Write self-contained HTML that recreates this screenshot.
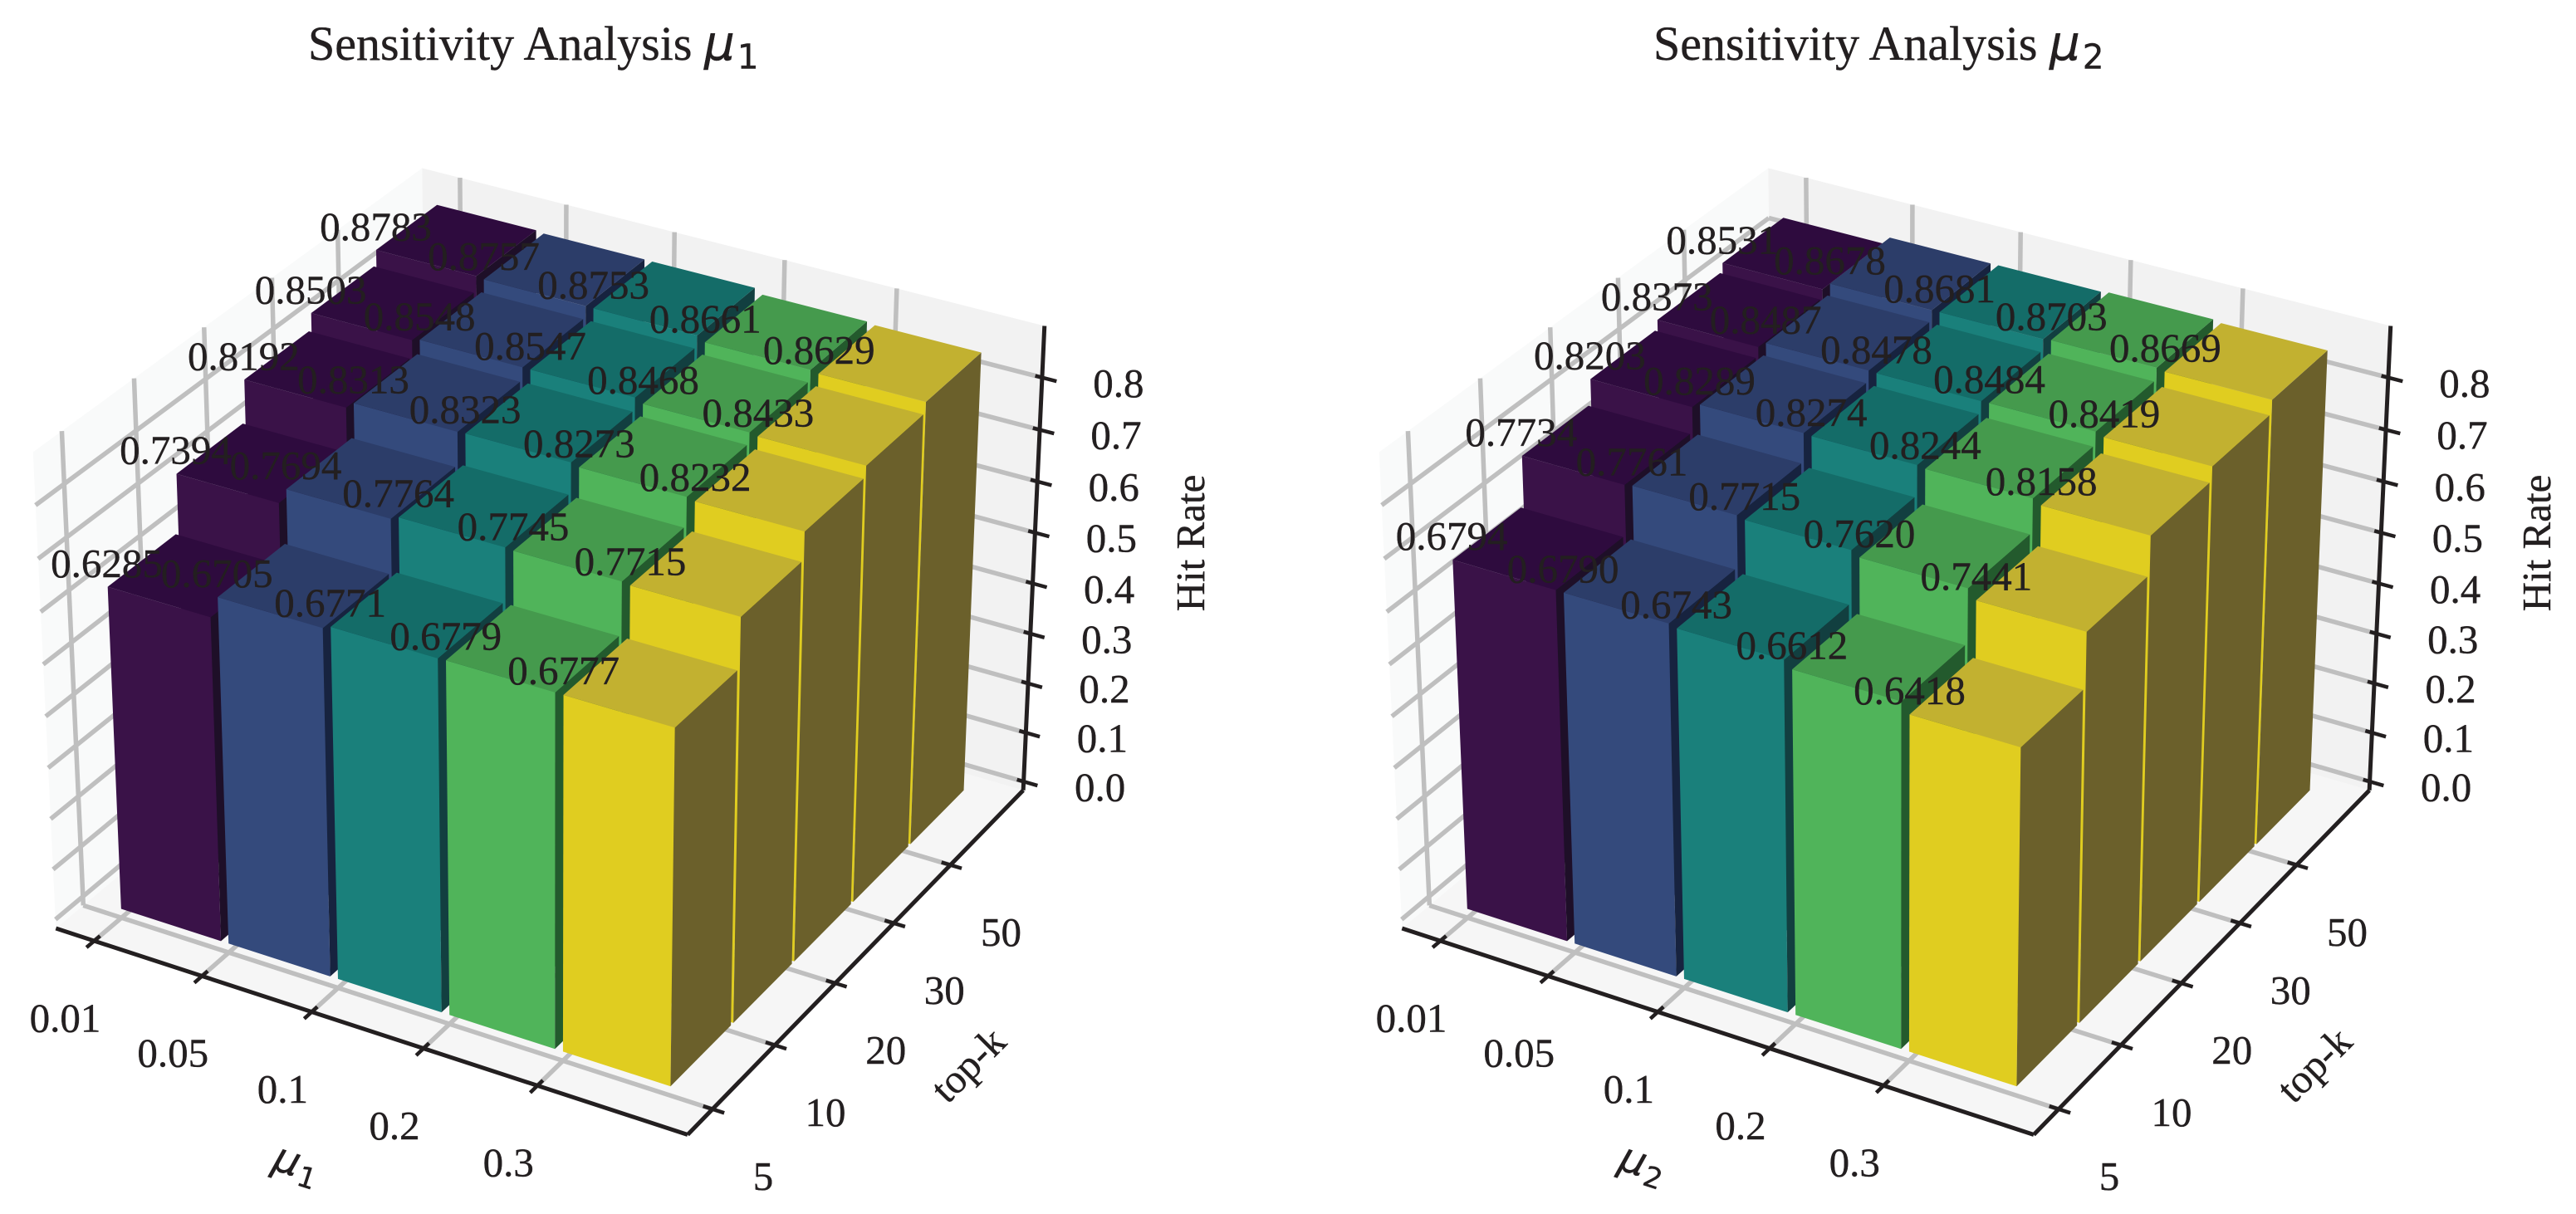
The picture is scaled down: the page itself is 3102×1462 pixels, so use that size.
<!DOCTYPE html>
<html lang="en">
<head>
<meta charset="utf-8">
<title>Sensitivity Analysis</title>
<style>
html,body{margin:0;padding:0;background:#fff;width:3102px;height:1462px;overflow:hidden}
svg{display:block}
text{font-family:"Liberation Serif","Times New Roman",serif;fill:#231f20;stroke:#231f20;stroke-width:0.4px}
.math{font-family:"DejaVu Sans",sans-serif}
</style>
</head>
<body>
<svg id="figure" xmlns="http://www.w3.org/2000/svg" width="3102" height="1462" viewBox="0 0 3102 1462"></svg>
<script>
// ---- chart data ----
const muTickLabels = ['0.01', '0.05', '0.1', '0.2', '0.3'];
const topKTickLabels = ['5', '10', '20', '30', '50'];
const hitRateTicks = [0, 0.1, 0.2, 0.3, 0.4, 0.5, 0.6, 0.7, 0.8];
// one row per mu value, front (k=5) to back (k=50)
const hitRateMu1 = [
  [0.6285, 0.7394, 0.8192, 0.8503, 0.8783],
  [0.6705, 0.7694, 0.8313, 0.8548, 0.8757],
  [0.6771, 0.7764, 0.8323, 0.8547, 0.8753],
  [0.6779, 0.7745, 0.8273, 0.8468, 0.8661],
  [0.6777, 0.7715, 0.8232, 0.8433, 0.8629]
];
const hitRateMu2 = [
  [0.6794, 0.7734, 0.8203, 0.8373, 0.8531],
  [0.6790, 0.7761, 0.8289, 0.8487, 0.8678],
  [0.6743, 0.7715, 0.8274, 0.8478, 0.8681],
  [0.6612, 0.7620, 0.8244, 0.8484, 0.8703],
  [0.6418, 0.7441, 0.8158, 0.8419, 0.8669]
];

// ---- styling and axis configuration ----
const frontFills = ['#3a1248', '#344a7c', '#1a807b', '#50b45a', '#e0cd20'];
const topFills = ['#2e0b3e', '#2c3d69', '#146c68', '#459a4d', '#c2b130'];
const sideFills = ['#1e0f28', '#17233f', '#123f40', '#235a2d', '#6b602b'];
const INK = '#231f20';
const GRID = '#bfbfbf';
const SVGNS = 'http://www.w3.org/2000/svg';
const SCALE = 7320, CENTER_Y = 756.5;
const BOX = [1.1905, 1.1905, 0.8929];
const X_LIM = [-0.36, 5.29], Y_LIM = [-0.39, 5.33], Z_LIM = [-0.018, 0.898];
const BAR_W = 0.93, BAR_D = 0.96;
const LABEL_LIFT = 0.044;
const LABEL_SIZE = 49, TITLE_SIZE = 58;
const GRID_W = 5.5, AXIS_W = 5, TICK_W = 4.5;

function axisX(v) { return (v - X_LIM[0]) / (X_LIM[1] - X_LIM[0]) * BOX[0] - BOX[0] / 2; }
function axisY(v) { return (v - Y_LIM[0]) / (Y_LIM[1] - Y_LIM[0]) * BOX[1] - BOX[1] / 2; }
function axisZ(v) { return (v - Z_LIM[0]) / (Z_LIM[1] - Z_LIM[0]) * BOX[2] - BOX[2] / 2; }

// perspective projection for elev=30, azim=-60, dist=10
function project(cx, x, y, z) {
  const bx = axisX(x), by = axisY(y), bz = axisZ(z);
  const u = 0.8660254 * bx + 0.5 * by;
  const v = -0.25 * bx + 0.4330127 * by + 0.8660254 * bz;
  const w = 0.4330127 * bx - 0.75 * by + 0.5 * bz;
  const d = 10 - w;
  return [cx + SCALE * u / d, CENTER_Y - SCALE * v / d];
}

function make(tag, parent, attrs) {
  const el = document.createElementNS(SVGNS, tag);
  for (const k in attrs) el.setAttribute(k, attrs[k]);
  parent.appendChild(el);
  return el;
}
function polygon(parent, pts, fill) {
  return make('polygon', parent, { points: pts.map(p => p[0].toFixed(2) + ',' + p[1].toFixed(2)).join(' '), fill: fill });
}
function segment(parent, a, b, stroke, width) {
  return make('line', parent, { x1: a[0].toFixed(2), y1: a[1].toFixed(2), x2: b[0].toFixed(2), y2: b[1].toFixed(2), stroke: stroke, 'stroke-width': width, 'stroke-linecap': 'butt' });
}
function centeredText(parent, x, y, str, size) {
  const t = make('text', parent, { x: x.toFixed(2), y: (y + size * 0.33).toFixed(2), 'text-anchor': 'middle', 'font-size': size });
  t.textContent = str;
  return t;
}
function mathSymbol(textEl, sub, size) {
  const m = make('tspan', textEl, { class: 'math', 'font-style': 'oblique', 'font-size': size });
  m.textContent = '\u03bc';
  const s = make('tspan', textEl, { class: 'math', 'font-size': size * 0.7, dy: size * 0.18, dx: size * 0.05 });
  s.textContent = sub;
}

function drawChart(root, cx, values, sub, titleX) {
  const g = make('g', root, {});
  
  
  const P = (x, y, z) => project(cx, x, y, z);
  const x0 = X_LIM[0], x1 = X_LIM[1], y0 = Y_LIM[0], y1 = Y_LIM[1], z0 = Z_LIM[0], z1 = Z_LIM[1];

  // panes
  const paneLeft = polygon(g, [P(x0, y0, z0), P(x0, y1, z0), P(x0, y1, z1), P(x0, y0, z1)], '#f9fafa');
  
  
  const paneBack = polygon(g, [P(x0, y1, z0), P(x1, y1, z0), P(x1, y1, z1), P(x0, y1, z1)], '#f2f2f2');
  
  
  const paneFloor = polygon(g, [P(x0, y0, z0), P(x1, y0, z0), P(x1, y1, z0), P(x0, y1, z0)], '#f6f6f6');
  
  

  // grid
  const grid = make('g', g, {});
  
  
  muTickLabels.forEach((_, i) => {
    segment(grid, P(i, y0, z0), P(i, y1, z0), GRID, GRID_W);
    segment(grid, P(i, y1, z0), P(i, y1, z1), GRID, GRID_W);
  });
  topKTickLabels.forEach((_, j) => {
    segment(grid, P(x0, j, z0), P(x1, j, z0), GRID, GRID_W);
    segment(grid, P(x0, j, z0), P(x0, j, z1), GRID, GRID_W);
  });
  hitRateTicks.forEach(z => {
    segment(grid, P(x0, y0, z), P(x0, y1, z), GRID, GRID_W);
    segment(grid, P(x0, y1, z), P(x1, y1, z), GRID, GRID_W);
  });

  // axis lines
  const axisXLine = segment(g, P(x0, y0, z0), P(x1, y0, z0), INK, AXIS_W);
  
  
  const axisYLine = segment(g, P(x1, y0, z0), P(x1, y1, z0), INK, AXIS_W);
  
  
  const axisZLine = segment(g, P(x1, y1, z0), P(x1, y1, z1), INK, AXIS_W);
  
  

  // ticks and tick labels
  muTickLabels.forEach((label, i) => {
    const mark = segment(g, P(i, y0 - 0.11, z0), P(i, y0 + 0.083, z0), INK, TICK_W);
    
    
    const at = P(i, y0, z0);
    const t = centeredText(g, at[0] - 35, at[1] + 93, label, LABEL_SIZE);
    
    
  });
  topKTickLabels.forEach((label, j) => {
    const mark = segment(g, P(x1 - 0.08, j, z0), P(x1 + 0.1, j, z0), INK, TICK_W);
    
    
    const at = P(x1, j, z0);
    const t = centeredText(g, at[0] + 61, at[1] + 81, label, LABEL_SIZE);
    
    
  });
  hitRateTicks.forEach(z => {
    const mark = segment(g, P(x1 - 0.06, y1, z), P(x1 + 0.125, y1, z), INK, TICK_W);
    
    
    const at = P(x1, y1, z);
    const t = centeredText(g, at[0] + 92, at[1] + 7, z.toFixed(1), LABEL_SIZE);
    
    
  });

  // bars, painted back to front
  const bars = make('g', g, {});
  
  
  for (let j = topKTickLabels.length - 1; j >= 0; j--) {
    for (let i = 0; i < muTickLabels.length; i++) {
      const h = values[i][j];
      const xa = i, xb = i + BAR_W, ya = j, yb = j + BAR_D;
      const bar = make('g', bars, {});
      
      
      polygon(bar, [P(xa, ya, 0), P(xb, ya, 0), P(xb, ya, h), P(xa, ya, h)], frontFills[i]);
      polygon(bar, [P(xb, ya, 0), P(xb, yb, 0), P(xb, yb, h), P(xb, ya, h)], sideFills[i]);
      polygon(bar, [P(xa, ya, h), P(xb, ya, h), P(xb, yb, h), P(xa, yb, h)], topFills[i]);
    }
  }

  // printed values
  const labels = make('g', g, {});
  
  
  for (let j = topKTickLabels.length - 1; j >= 0; j--) {
    for (let i = 0; i < muTickLabels.length; i++) {
      const at = P(i, j, values[i][j] + LABEL_LIFT);
      const t = centeredText(labels, at[0], at[1], values[i][j].toFixed(4), LABEL_SIZE);
      
      
    }
  }

  // axis titles
  const xLabelX = cx - 303, xLabelY = 1401;
  const xTitle = make('text', g, { x: xLabelX, y: xLabelY + 16, 'text-anchor': 'middle', transform: 'rotate(18 ' + xLabelX + ' ' + xLabelY + ')' });
  
  
  mathSymbol(xTitle, sub, LABEL_SIZE);

  const yLabelX = cx + 507, yLabelY = 1284;
  const yTitle = make('text', g, { x: yLabelX, y: yLabelY + 14, 'text-anchor': 'middle', 'font-size': LABEL_SIZE, transform: 'rotate(-45 ' + yLabelX + ' ' + yLabelY + ')' });
  yTitle.textContent = 'top-k';
  
  

  const zLabelX = cx + 775.5, zLabelY = 654;
  const zTitle = make('text', g, { x: zLabelX, y: zLabelY + 14, 'text-anchor': 'middle', 'font-size': LABEL_SIZE, transform: 'rotate(-90 ' + zLabelX + ' ' + zLabelY + ')' });
  zTitle.textContent = 'Hit Rate';
  
  

  // chart title
  const title = make('text', g, { x: titleX, y: 72, 'font-size': TITLE_SIZE });
  
  
  const titleWords = make('tspan', title, {});
  titleWords.textContent = 'Sensitivity Analysis ';
  mathSymbol(title, sub, TITLE_SIZE);
}

const figure = document.getElementById('figure');
drawChart(figure, 660.5, hitRateMu1, '1', 371);
drawChart(figure, 2281.5, hitRateMu2, '2', 1991);
</script>
</body>
</html>
